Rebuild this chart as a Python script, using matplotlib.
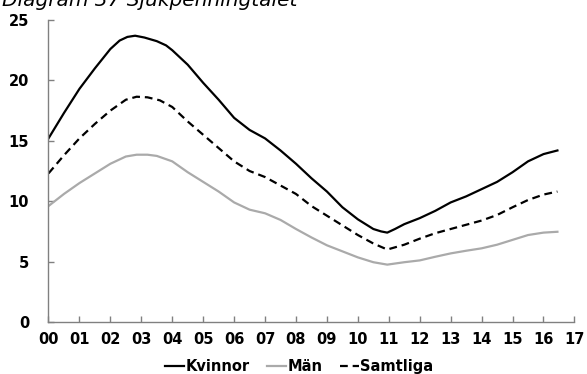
import matplotlib
matplotlib.use("Agg")
import matplotlib.pyplot as plt

# half-year points, years since 2000
t_kvinnor = [0, 0.5, 1, 1.5, 2, 2.3, 2.55, 2.8, 3.1, 3.5, 3.8, 4, 4.5, 5, 5.5, 6,
             6.5, 7, 7.5, 8, 8.5, 9, 9.5, 10, 10.5, 10.75, 10.95, 11.2, 11.5, 12,
             12.5, 13, 13.5, 14, 14.5, 15, 15.5, 16, 16.45]
kvinnor = [15.2, 17.3, 19.3, 21.0, 22.6, 23.3, 23.6, 23.7, 23.55, 23.25, 22.9, 22.5,
           21.3, 19.8, 18.4, 16.9, 15.9, 15.2, 14.2, 13.1, 11.9, 10.8, 9.5, 8.5, 7.7,
           7.5, 7.4, 7.7, 8.1, 8.6, 9.2, 9.9, 10.4, 11.0, 11.6, 12.4, 13.3, 13.9, 14.2]

t_man = [0, 0.5, 1, 1.5, 2, 2.5, 2.85, 3.2, 3.5, 4, 4.5, 5, 5.5, 6, 6.5, 7, 7.5, 8,
         8.5, 9, 9.5, 10, 10.5, 10.95, 11.5, 12, 12.5, 13, 13.5, 14, 14.5, 15, 15.5,
         16, 16.45]
man = [9.6, 10.6, 11.5, 12.3, 13.1, 13.7, 13.85, 13.85, 13.75, 13.3, 12.4, 11.6,
       10.8, 9.9, 9.3, 9.0, 8.45, 7.7, 7.0, 6.35, 5.85, 5.35, 4.95, 4.75, 4.95, 5.1,
       5.4, 5.68, 5.9, 6.1, 6.4, 6.8, 7.2, 7.4, 7.47]

t_samtliga = [0, 0.5, 1, 1.5, 2, 2.5, 2.85, 3.2, 3.6, 4, 4.5, 5, 5.5, 6, 6.5, 7,
              7.5, 8, 8.5, 9, 9.5, 10, 10.5, 10.95, 11.5, 12, 12.5, 13, 13.5, 14,
              14.5, 15, 15.5, 16, 16.45]
samtliga = [12.3, 13.8, 15.2, 16.4, 17.5, 18.4, 18.65, 18.6, 18.35, 17.8, 16.6, 15.5,
            14.4, 13.3, 12.5, 12.0, 11.3, 10.6, 9.6, 8.8, 8.0, 7.2, 6.5, 6.0, 6.4,
            6.9, 7.35, 7.7, 8.05, 8.4, 8.86, 9.5, 10.1, 10.55, 10.8]

year_labels = ["00", "01", "02", "03", "04", "05", "06", "07", "08", "09",
               "10", "11", "12", "13", "14", "15", "16", "17"]

fig = plt.figure(figsize=(5.87, 3.74), dpi=100)
ax = fig.add_axes([0.0826, 0.139, 0.896, 0.8075])

ax.plot(t_kvinnor, kvinnor, color="black", lw=1.6, label="Kvinnor")
ax.plot(t_man, man, color="#aaaaaa", lw=1.6, label="Män")
ax.plot(t_samtliga, samtliga, color="black", lw=1.6, dashes=(3.5, 2.2), label="Samtliga")

ax.set_xlim(0, 17)
ax.set_ylim(0, 25)
ax.set_xticks(range(len(year_labels)))
ax.set_xticklabels(year_labels)
ax.set_yticks([0, 5, 10, 15, 20, 25])
for s in ["top", "right"]:
    ax.spines[s].set_visible(False)
for s in ["left", "bottom"]:
    ax.spines[s].set_color("#808080")
    ax.spines[s].set_linewidth(1.0)
ax.tick_params(direction="in", length=4, color="#808080", width=1.0)
ax.tick_params(axis="x", pad=7)
ax.tick_params(axis="y", pad=14)
for lab in ax.get_xticklabels() + ax.get_yticklabels():
    lab.set_fontweight("bold")
    lab.set_fontsize(10.5)

# title sits partly above the top edge, as in the source
fig.text(0.003, 1 - 6 / 374, "Diagram 37 Sjukpenningtalet", fontsize=14.5,
         style="italic", va="baseline", ha="left")

leg = fig.legend(loc="center", bbox_to_anchor=(0.51, 0.02), ncol=3, frameon=False,
                 handlelength=1.3, handletextpad=0.1, columnspacing=1.2,
                 prop={"weight": "bold", "size": 10.5})

fig.savefig("out.png", dpi=100)
